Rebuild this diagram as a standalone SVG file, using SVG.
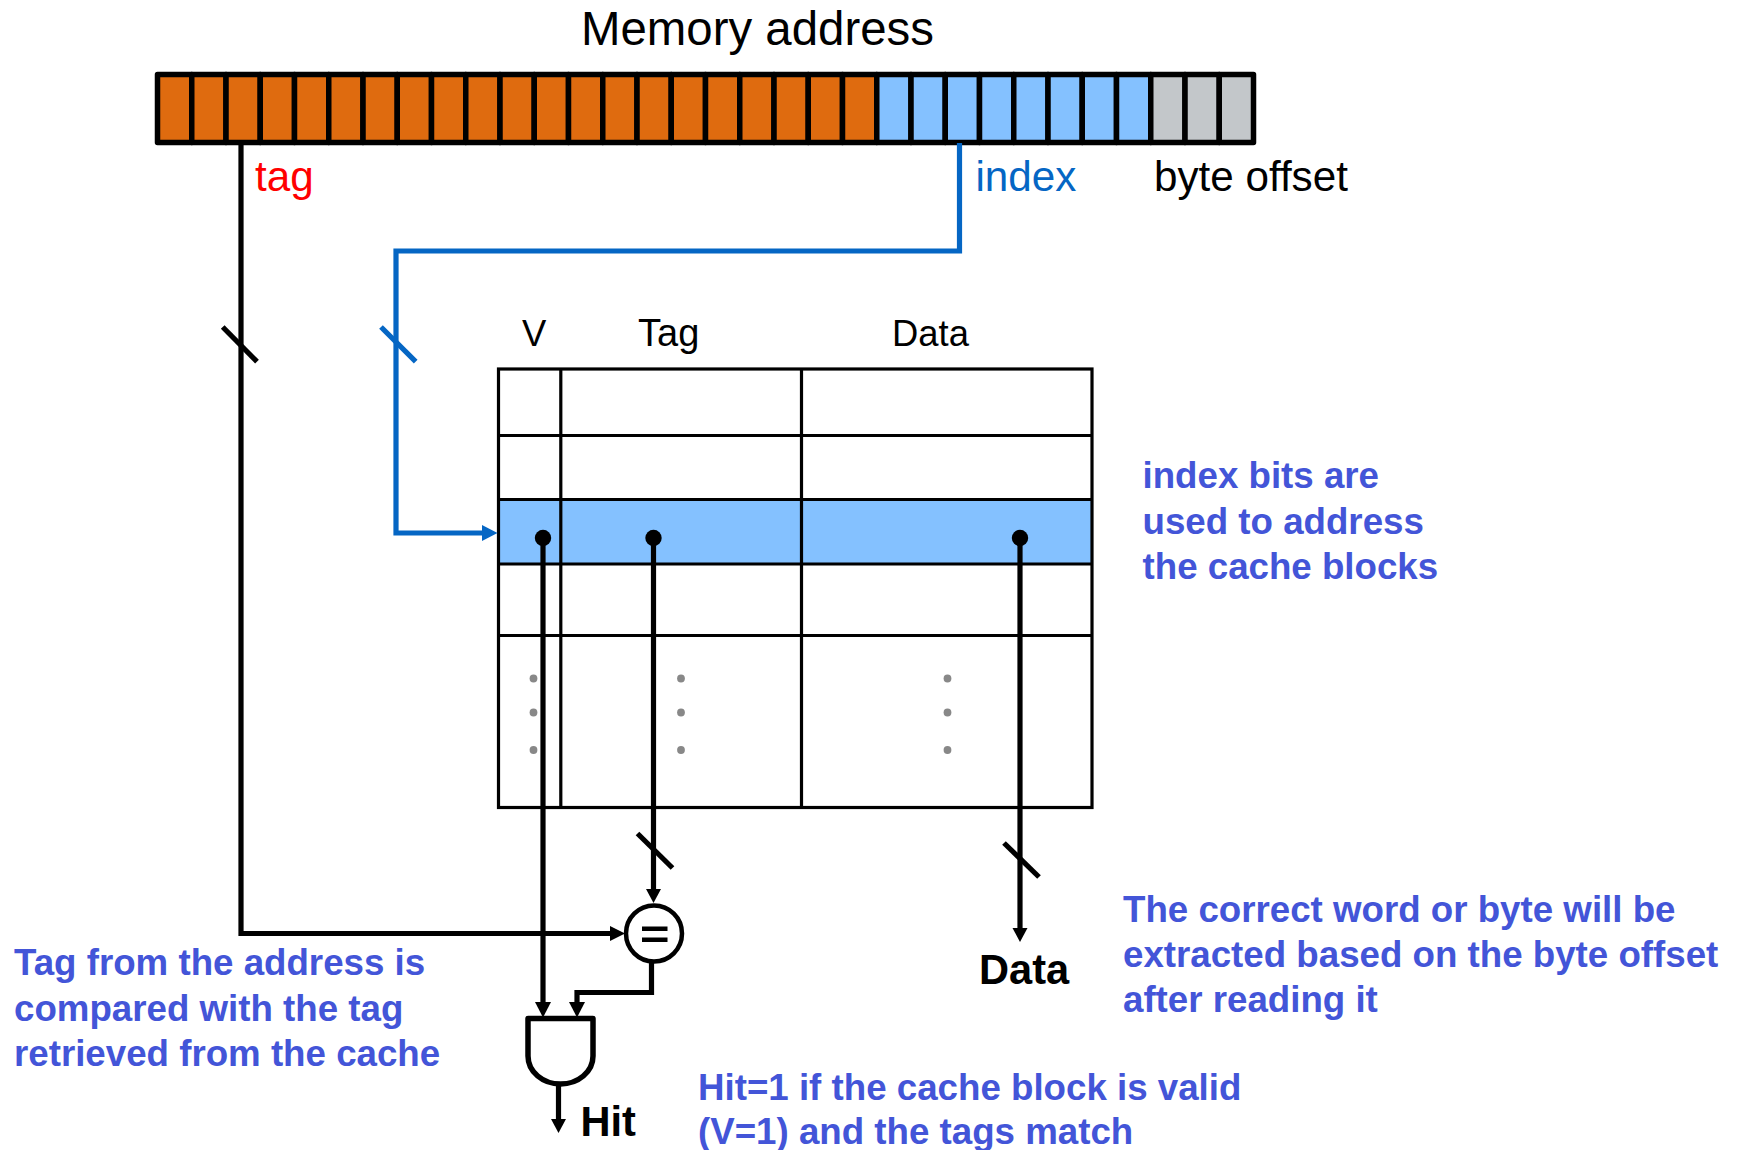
<svg xmlns="http://www.w3.org/2000/svg" width="1738" height="1150" viewBox="0 0 1738 1150">
<style>
text{font-family:"Liberation Sans",Arial,sans-serif}
.title{font-size:47.4px;fill:#000}
.lbl{font-size:42.2px}
.hd{font-size:36.4px;fill:#000}
.note{font-size:36.7px;font-weight:700;fill:#4355D8}
.out{font-size:41.6px;font-weight:700;fill:#000}
.o{fill:#DF6B0F}.b{fill:#84C1FF}.g{fill:#C3C7CA}
.cell{stroke:#000;stroke-width:5.5;stroke-linejoin:round}
.tl{stroke:#000;stroke-width:3.2;fill:none}
.w{stroke:#000;stroke-width:5.2;fill:none}
.wb{stroke:#0566C4;stroke-width:5.2;fill:none}
.ah{fill:#000}.dot{fill:#000}.gd{fill:#888}
</style>
<rect width="1738" height="1150" fill="#fff"/>
<g id="title"><text class="title" x="581" y="45">Memory address</text></g>
<g id="address-bar">
<rect class="cell o" x="157.5" y="74.5" width="34.25" height="68"/><rect class="cell o" x="191.75" y="74.5" width="34.25" height="68"/><rect class="cell o" x="226" y="74.5" width="34.25" height="68"/><rect class="cell o" x="260.25" y="74.5" width="34.25" height="68"/><rect class="cell o" x="294.5" y="74.5" width="34.25" height="68"/><rect class="cell o" x="328.75" y="74.5" width="34.25" height="68"/><rect class="cell o" x="363" y="74.5" width="34.25" height="68"/><rect class="cell o" x="397.25" y="74.5" width="34.25" height="68"/><rect class="cell o" x="431.5" y="74.5" width="34.25" height="68"/><rect class="cell o" x="465.75" y="74.5" width="34.25" height="68"/><rect class="cell o" x="500" y="74.5" width="34.25" height="68"/><rect class="cell o" x="534.25" y="74.5" width="34.25" height="68"/><rect class="cell o" x="568.5" y="74.5" width="34.25" height="68"/><rect class="cell o" x="602.75" y="74.5" width="34.25" height="68"/><rect class="cell o" x="637" y="74.5" width="34.25" height="68"/><rect class="cell o" x="671.25" y="74.5" width="34.25" height="68"/><rect class="cell o" x="705.5" y="74.5" width="34.25" height="68"/><rect class="cell o" x="739.75" y="74.5" width="34.25" height="68"/><rect class="cell o" x="774" y="74.5" width="34.25" height="68"/><rect class="cell o" x="808.25" y="74.5" width="34.25" height="68"/><rect class="cell o" x="842.5" y="74.5" width="34.25" height="68"/>
<rect class="cell b" x="876.75" y="74.5" width="34.25" height="68"/><rect class="cell b" x="911" y="74.5" width="34.25" height="68"/><rect class="cell b" x="945.25" y="74.5" width="34.25" height="68"/><rect class="cell b" x="979.5" y="74.5" width="34.25" height="68"/><rect class="cell b" x="1013.75" y="74.5" width="34.25" height="68"/><rect class="cell b" x="1048" y="74.5" width="34.25" height="68"/><rect class="cell b" x="1082.25" y="74.5" width="34.25" height="68"/><rect class="cell b" x="1116.5" y="74.5" width="34.25" height="68"/>
<rect class="cell g" x="1150.75" y="74.5" width="34.25" height="68"/><rect class="cell g" x="1185" y="74.5" width="34.25" height="68"/><rect class="cell g" x="1219.25" y="74.5" width="34.25" height="68"/>
</g>
<g id="field-labels">
<text class="lbl" x="255" y="191" fill="#FF0000">tag</text>
<text class="lbl" x="975.5" y="191" fill="#0566C4">index</text>
<text class="lbl" x="1154" y="191" fill="#000">byte offset</text>
</g>
<g id="cache-table">
<rect x="498.5" y="500" width="593.5" height="64" fill="#84C1FF"/>
<rect class="tl" x="498.5" y="369" width="593.5" height="438.5"/>
<path class="tl" d="M498.5 435.5H1092M498.5 499.5H1092M498.5 564H1092M498.5 635.5H1092M560.8 369V807.5M801.5 369V807.5"/>
<text class="hd" x="522" y="346">V</text>
<text class="hd" x="638" y="346" font-size="38" style="font-size:38px">Tag</text>
<text class="hd" x="892" y="346">Data</text>
<circle class="gd" cx="533.5" cy="678.5" r="3.9"/><circle class="gd" cx="533.5" cy="712.5" r="3.9"/><circle class="gd" cx="533.5" cy="750" r="3.9"/>
<circle class="gd" cx="681" cy="678.5" r="3.9"/><circle class="gd" cx="681" cy="712.5" r="3.9"/><circle class="gd" cx="681" cy="750" r="3.9"/>
<circle class="gd" cx="947.5" cy="678.5" r="3.9"/><circle class="gd" cx="947.5" cy="712.5" r="3.9"/><circle class="gd" cx="947.5" cy="750" r="3.9"/>
</g>
<g id="connectors">
<path class="w" d="M241 143V933.5H612"/>
<path class="w" d="M222.7 327L257 361.7"/>
<path class="wb" d="M959.5 143V251H396V533H484"/>
<path class="wb" d="M381 327L415.7 361.7"/>
<polygon fill="#0566C4" points="497.5,533 482,525 482,541"/>
<polygon class="ah" points="625,933.5 610,926 610,941"/>
<path class="w" d="M543 538V1004"/>
<circle class="dot" cx="543" cy="538" r="8.2"/>
<polygon class="ah" points="543,1017.5 535,1002 551,1002"/>
<path class="w" d="M653.5 538V891"/>
<circle class="dot" cx="653.5" cy="538" r="8.2"/>
<path class="w" d="M637.5 833.5L672.5 868"/>
<polygon class="ah" points="653.5,903 646,889 661,889"/>
<path class="w" d="M1020 538V930"/>
<circle class="dot" cx="1020" cy="538" r="8.2"/>
<path class="w" d="M1004 843L1039 877"/>
<polygon class="ah" points="1020,942 1012.5,928 1027.5,928"/>
<path class="w" d="M651.5 962V992.5H577V1004"/>
<polygon class="ah" points="577,1017.5 569,1002 585,1002"/>
<path class="w" d="M558.5 1082V1120"/>
<polygon class="ah" points="558.5,1133 551,1119 566,1119"/>
</g>
<g id="comparator">
<circle cx="654" cy="933.5" r="28" fill="#fff" stroke="#000" stroke-width="4.5"/>
<rect x="642" y="926.5" width="25.5" height="4.5"/><rect x="642" y="937.5" width="25.5" height="4.5"/>
</g>
<g id="and-gate">
<path d="M528 1018.5H593V1056C593 1072 578 1084 560.5 1084C543 1084 528 1072 528 1056Z" fill="#fff" stroke="#000" stroke-width="5.5" stroke-linejoin="round"/>
</g>
<g id="outputs">
<text class="out" x="580.5" y="1136">Hit</text>
<text class="out" x="979" y="984">Data</text>
</g>
<g id="notes">
<text class="note" x="1142.5" y="488">index bits are</text>
<text class="note" x="1142.5" y="534">used to address</text>
<text class="note" x="1142.5" y="579">the cache blocks</text>
<text class="note" x="1123" y="922">The correct word or byte will be</text>
<text class="note" x="1123" y="967">extracted based on the byte offset</text>
<text class="note" x="1123" y="1012">after reading it</text>
<text class="note" x="14" y="975">Tag from the address is</text>
<text class="note" x="14" y="1021">compared with the tag</text>
<text class="note" x="14" y="1066">retrieved from the cache</text>
<text class="note" x="698" y="1100">Hit=1 if the cache block is valid</text>
<text class="note" x="698" y="1144">(V=1) and the tags match</text>
</g>
</svg>
